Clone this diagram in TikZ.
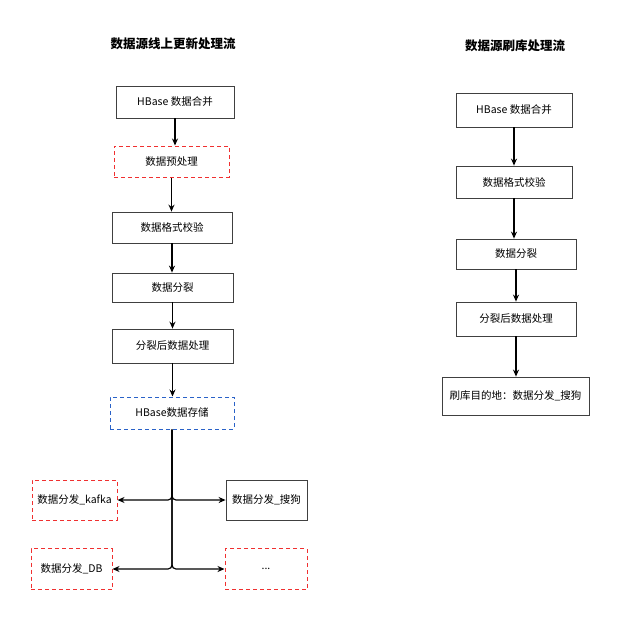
\documentclass[tikz,border=0pt]{standalone}
\usepackage{fontspec}
\setmainfont{Noto Sans CJK SC}
\usetikzlibrary{arrows.meta}
\definecolor{dred}{HTML}{F03030}
\definecolor{dblue}{HTML}{2A62C8}
\begin{document}
\begin{tikzpicture}[x=1pt,y=-1pt,
  box/.style={draw=black!75,line width=0.8pt,rectangle,inner sep=0pt,font=\fontsize{10.5}{12}\selectfont},
  reddash/.style={box,draw=dred,line width=1pt,dash pattern=on 4pt off 3pt},
  bluedash/.style={box,draw=dblue,line width=1pt,dash pattern=on 4pt off 3pt},
  arr/.style={draw=black,line width=1.2pt,-{Stealth[length=7pt,width=6pt]}},
  ttl/.style={font=\fontsize{12.5}{14}\selectfont\bfseries}]
\useasboundingbox (0,0) rectangle (640,622);
% titles
\node[ttl] (t1) at (173,44) {数据源线上更新处理流};
\node[ttl] (t2) at (515,46) {数据源刷库处理流};
% left column
\node[box,minimum width=118pt,minimum height=32pt] (L1) at (175,102) {HBase 数据合并};
\node[reddash,minimum width=115pt,minimum height=31pt] (L2) at (171.5,161.5) {数据预处理};
\node[box,minimum width=120pt,minimum height=31pt] (L3) at (172,227.5) {数据格式校验};
\node[box,minimum width=121pt,minimum height=29pt] (L4) at (172.5,287.5) {数据分裂};
\node[box,minimum width=121pt,minimum height=34pt] (L5) at (172.5,346) {分裂后数据处理};
\node[bluedash,minimum width=124pt,minimum height=32pt] (L6) at (172,413) {HBase数据存储};
\node[reddash,minimum width=85pt,minimum height=40pt] (K) at (74.5,500) {数据分发\_kafka};
\node[box,minimum width=81pt,minimum height=40pt] (S) at (266.5,500) {数据分发\_搜狗};
\node[reddash,minimum width=81pt,minimum height=41pt] (D) at (71.5,569) {数据分发\_DB};
\node[reddash,minimum width=82pt,minimum height=41pt] (E) at (266,569) {...};
\draw[arr] (L1.south) -- (L1.south |- L2.north);
\draw[arr] (L2.south) -- (L2.south |- L3.north);
\draw[arr] (L3.south) -- (L3.south |- L4.north);
\draw[arr] (L4.south) -- (L4.south |- L5.north);
\draw[arr] (L5.south) -- (L5.south |- L6.north);
\draw[arr,rounded corners=4pt] (L6.south) |- (K.east);
\draw[arr,rounded corners=4pt] (L6.south) |- (S.west);
\draw[arr,rounded corners=4pt] (L6.south) |- (D.east);
\draw[arr,rounded corners=4pt] (L6.south) |- (E.west);
% right column
\node[box,minimum width=116pt,minimum height=34pt] (R1) at (514,110) {HBase 数据合并};
\node[box,minimum width=116pt,minimum height=32pt] (R2) at (514,182) {数据格式校验};
\node[box,minimum width=120pt,minimum height=30pt] (R3) at (516,254) {数据分裂};
\node[box,minimum width=120pt,minimum height=34pt] (R4) at (516,319) {分裂后数据处理};
\node[box,minimum width=147pt,minimum height=38pt] (R5) at (515.5,396) {刷库目的地：数据分发\_搜狗};
\draw[arr] (R1.south) -- (R1.south |- R2.north);
\draw[arr] (R2.south) -- (R2.south |- R3.north);
\draw[arr] (R3.south) -- (R3.south |- R4.north);
\draw[arr] (R4.south) -- (R4.south |- R5.north);
\end{tikzpicture}
\end{document}
